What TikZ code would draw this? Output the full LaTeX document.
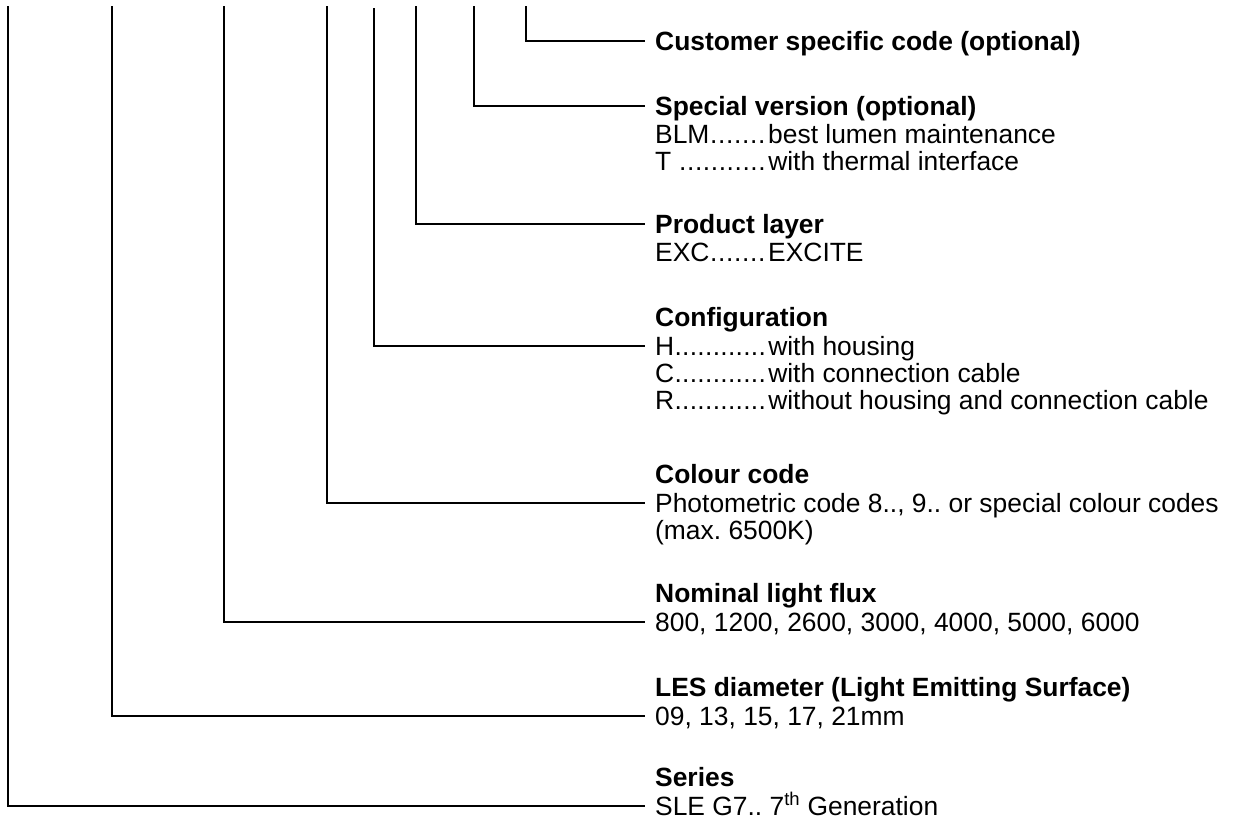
\documentclass[tikz,border=0pt]{standalone}
\usepackage{fontspec}
\setmainfont{Liberation Sans}
\frenchspacing
\newcommand\leadrow[2]{\makebox[111pt][l]{#1\xleaders\hbox{.}\hfill}\hspace{2pt}#2}
\begin{document}
\begin{tikzpicture}[x=1pt,y=-1pt,
  conn/.style={line width=1.4pt, black},
  row/.style={anchor=base west, inner xsep=10pt, inner ysep=0pt,
    text height=18pt, text depth=0pt, font=\fontsize{26.4}{29}\selectfont},
  hdr/.style={row, font=\fontsize{26.4}{29}\selectfont\bfseries}]
\useasboundingbox (0,0) rectangle (1235,823);
% free upper ends of the connectors
\coordinate (t1) at (526,6);
\coordinate (t2) at (474,6);
\coordinate (t3) at (416,6);
\coordinate (t4) at (374,8);
\coordinate (t5) at (327,6);
\coordinate (t6) at (224,6);
\coordinate (t7) at (112,6);
\coordinate (t8) at (8,6);
% text rows
\node[hdr] (cust) at (645,50) {Customer specific code (optional)};
\node[hdr] (spec) at (645,115) {Special version (optional)};
\node[row] (blm) at (645,143.5) {\leadrow{BLM}{best lumen maintenance}};
\node[row] (tth) at (645,170.5) {\leadrow{T\ }{with thermal interface}};
\node[hdr] (prod) at (645,233) {Product layer};
\node[row] (exc) at (645,261.5) {\leadrow{EXC}{EXCITE}};
\node[hdr] (conf) at (645,326.5) {Configuration};
\node[row] (hh) at (645,355) {\leadrow{H}{with housing}};
\node[row] (cc) at (645,382) {\leadrow{C}{with connection cable}};
\node[row] (rr) at (645,409) {\leadrow{R}{without housing and connection cable}};
\node[hdr] (col) at (645,483.5) {Colour code};
\node[row] (phot) at (645,512) {Photometric code 8.., 9.. or special colour codes};
\node[row] (max) at (645,539) {(max. 6500K)};
\node[hdr] (nom) at (645,602.5) {Nominal light flux};
\node[row] (flux) at (645,631) {800, 1200, 2600, 3000, 4000, 5000, 6000};
\node[hdr] (les) at (645,696.5) {LES diameter (Light Emitting Surface)};
\node[row] (dia) at (645,725) {09, 13, 15, 17, 21mm};
\node[hdr] (ser) at (645,786.5) {Series};
\node[row] (sle) at (645,815) {SLE G7.. 7\textsuperscript{th} Generation};
% connectors
\draw[conn] (t1) |- (cust.west);
\draw[conn] (t2) |- (spec.west);
\draw[conn] (t3) |- (prod.west);
\draw[conn] (t4) |- (hh.west);
\draw[conn] (t5) |- (phot.west);
\draw[conn] (t6) |- (flux.west);
\draw[conn] (t7) |- (dia.west);
\draw[conn] (t8) |- (sle.west);
\end{tikzpicture}
\end{document}
